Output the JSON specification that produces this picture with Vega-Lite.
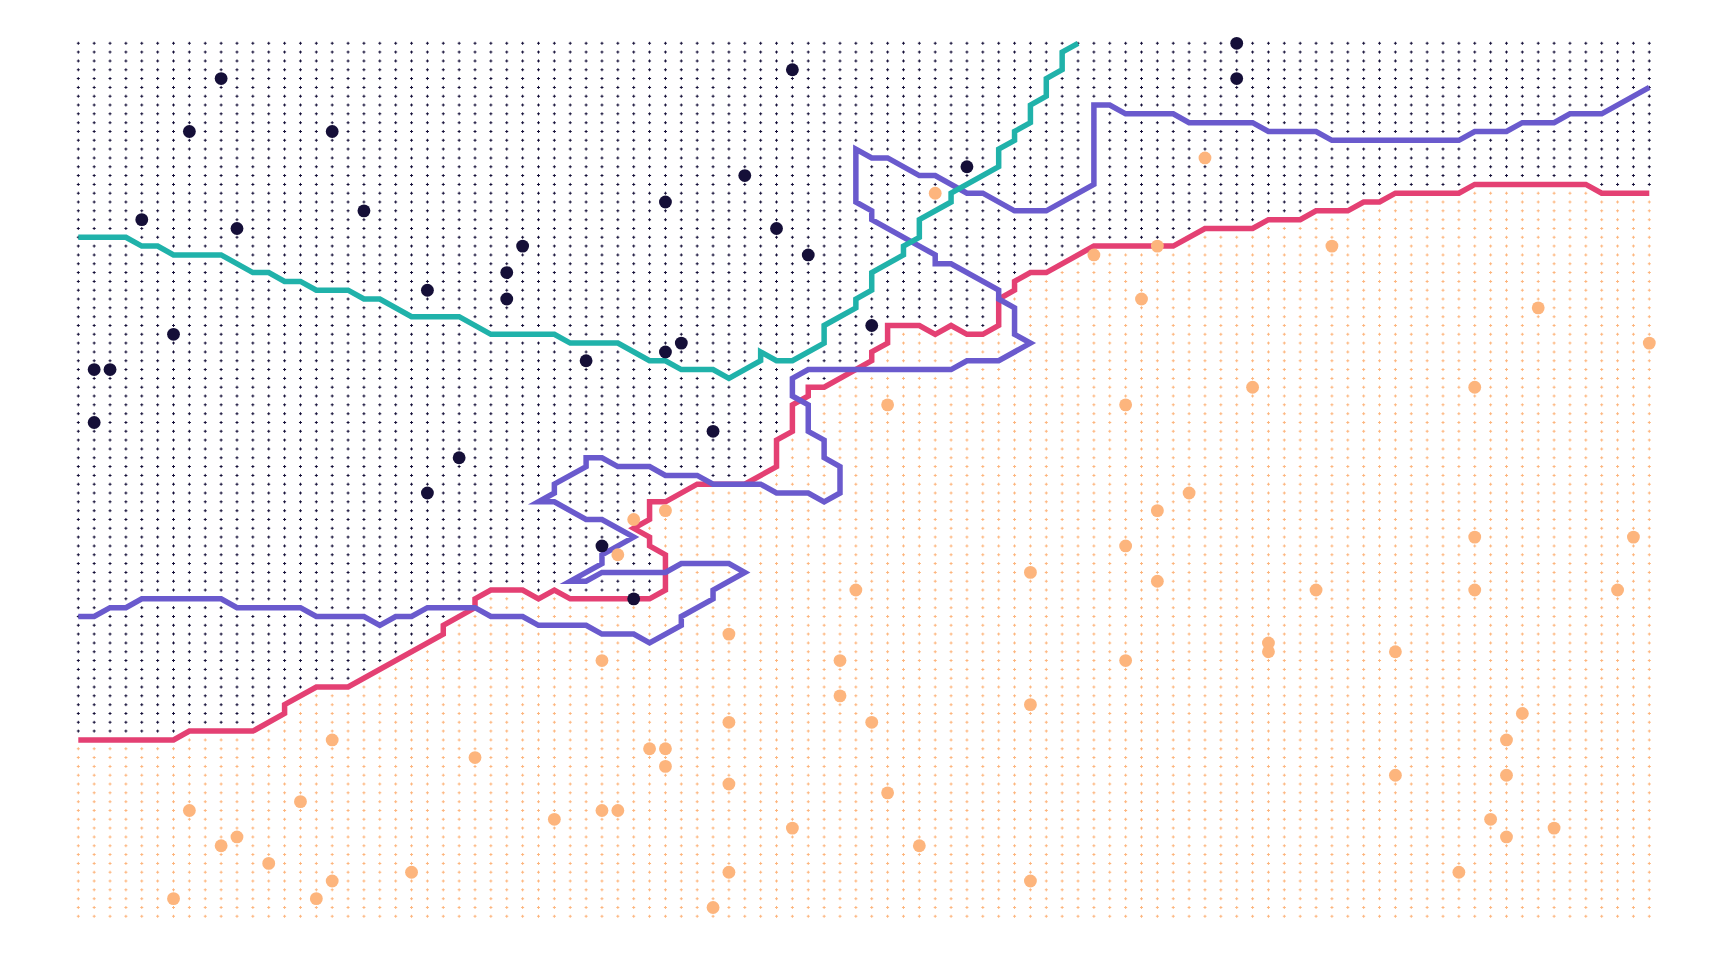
{
"$schema":"https://vega.github.io/schema/vega-lite/v6.json",
"width":1571,"height":873,
"autosize":{"type":"none"},
"padding":{"left":78.3,"top":43.3,"right":78.7,"bottom":43.7},
"background":"white",
"config":{"view":{"stroke":null}},
"datasets":{
"grid":[
{"i":0,"a":-0.5,"b":78.5,"c":"A"},{"i":1,"a":-0.5,"b":78.5,"c":"A"},{"i":2,"a":-0.5,"b":78.5,"c":"A"},{"i":3,"a":-0.5,"b":78.5,"c":"A"},{"i":4,"a":-0.5,"b":78.5,"c":"A"},{"i":5,"a":-0.5,"b":78.5,"c":"A"},{"i":6,"a":-0.5,"b":78.5,"c":"A"},
{"i":7,"a":-0.5,"b":77.5,"c":"A"},{"i":8,"a":-0.5,"b":77.5,"c":"A"},{"i":9,"a":-0.5,"b":77.5,"c":"A"},{"i":10,"a":-0.5,"b":77.5,"c":"A"},{"i":11,"a":-0.5,"b":77.5,"c":"A"},
{"i":12,"a":-0.5,"b":76.5,"c":"A"},{"i":13,"a":-0.5,"b":74.5,"c":"A"},{"i":14,"a":-0.5,"b":73.5,"c":"A"},
{"i":15,"a":-0.5,"b":72.5,"c":"A"},{"i":16,"a":-0.5,"b":72.5,"c":"A"},{"i":17,"a":-0.5,"b":72.5,"c":"A"},
{"i":18,"a":-0.5,"b":71.5,"c":"A"},{"i":19,"a":-0.5,"b":70.5,"c":"A"},{"i":20,"a":-0.5,"b":69.5,"c":"A"},{"i":21,"a":-0.5,"b":68.5,"c":"A"},{"i":22,"a":-0.5,"b":67.5,"c":"A"},
{"i":23,"a":-0.5,"b":65.5,"c":"A"},{"i":24,"a":-0.5,"b":64.5,"c":"A"},{"i":25,"a":-0.5,"b":62.5,"c":"A"},
{"i":26,"a":-0.5,"b":61.5,"c":"A"},{"i":27,"a":-0.5,"b":61.5,"c":"A"},{"i":28,"a":-0.5,"b":61.5,"c":"A"},{"i":29,"a":-0.5,"b":62.5,"c":"A"},{"i":30,"a":-0.5,"b":61.5,"c":"A"},
{"i":31,"a":-0.5,"b":62.5,"c":"A"},{"i":32,"a":-0.5,"b":62.5,"c":"A"},{"i":33,"a":-0.5,"b":62.5,"c":"A"},{"i":34,"a":-0.5,"b":62.5,"c":"A"},{"i":35,"a":-0.5,"b":62.5,"c":"A"},
{"i":36,"a":-0.5,"b":51.5,"c":"A"},{"i":36,"a":57.5,"b":62.5,"c":"A"},{"i":37,"a":-0.5,"b":51.5,"c":"A"},{"i":38,"a":-0.5,"b":50.5,"c":"A"},
{"i":39,"a":-0.5,"b":49.5,"c":"A"},{"i":40,"a":-0.5,"b":49.5,"c":"A"},{"i":41,"a":-0.5,"b":49.5,"c":"A"},{"i":42,"a":-0.5,"b":49.5,"c":"A"},
{"i":43,"a":-0.5,"b":48.5,"c":"A"},{"i":44,"a":-0.5,"b":44.5,"c":"A"},{"i":45,"a":-0.5,"b":40.5,"c":"A"},{"i":46,"a":-0.5,"b":38.5,"c":"A"},{"i":47,"a":-0.5,"b":38.5,"c":"A"},
{"i":48,"a":-0.5,"b":37.5,"c":"A"},{"i":49,"a":-0.5,"b":36.5,"c":"A"},{"i":50,"a":-0.5,"b":34.5,"c":"A"},{"i":51,"a":-0.5,"b":31.5,"c":"A"},
{"i":52,"a":-0.5,"b":31.5,"c":"A"},{"i":53,"a":-0.5,"b":31.5,"c":"A"},{"i":54,"a":-0.5,"b":32.5,"c":"A"},{"i":55,"a":-0.5,"b":31.5,"c":"A"},{"i":56,"a":-0.5,"b":32.5,"c":"A"},{"i":57,"a":-0.5,"b":32.5,"c":"A"},
{"i":58,"a":-0.5,"b":28.5,"c":"A"},{"i":59,"a":-0.5,"b":26.5,"c":"A"},{"i":60,"a":-0.5,"b":25.5,"c":"A"},{"i":61,"a":-0.5,"b":25.5,"c":"A"},{"i":62,"a":-0.5,"b":24.5,"c":"A"},{"i":63,"a":-0.5,"b":23.5,"c":"A"},
{"i":64,"a":-0.5,"b":22.5,"c":"A"},{"i":65,"a":-0.5,"b":22.5,"c":"A"},{"i":66,"a":-0.5,"b":22.5,"c":"A"},{"i":67,"a":-0.5,"b":22.5,"c":"A"},{"i":68,"a":-0.5,"b":22.5,"c":"A"},{"i":69,"a":-0.5,"b":22.5,"c":"A"},
{"i":70,"a":-0.5,"b":21.5,"c":"A"},{"i":71,"a":-0.5,"b":20.5,"c":"A"},{"i":72,"a":-0.5,"b":20.5,"c":"A"},{"i":73,"a":-0.5,"b":20.5,"c":"A"},{"i":74,"a":-0.5,"b":20.5,"c":"A"},
{"i":75,"a":-0.5,"b":19.5,"c":"A"},{"i":76,"a":-0.5,"b":19.5,"c":"A"},{"i":77,"a":-0.5,"b":19.5,"c":"A"},{"i":78,"a":-0.5,"b":18.5,"c":"A"},{"i":79,"a":-0.5,"b":18.5,"c":"A"},{"i":80,"a":-0.5,"b":18.5,"c":"A"},
{"i":81,"a":-0.5,"b":17.5,"c":"A"},{"i":82,"a":-0.5,"b":17.5,"c":"A"},{"i":83,"a":-0.5,"b":16.5,"c":"A"},{"i":84,"a":-0.5,"b":16.5,"c":"A"},{"i":85,"a":-0.5,"b":16.5,"c":"A"},{"i":86,"a":-0.5,"b":16.5,"c":"A"},{"i":87,"a":-0.5,"b":16.5,"c":"A"},
{"i":88,"a":-0.5,"b":15.5,"c":"A"},{"i":89,"a":-0.5,"b":15.5,"c":"A"},{"i":90,"a":-0.5,"b":15.5,"c":"A"},{"i":91,"a":-0.5,"b":15.5,"c":"A"},{"i":92,"a":-0.5,"b":15.5,"c":"A"},{"i":93,"a":-0.5,"b":15.5,"c":"A"},{"i":94,"a":-0.5,"b":15.5,"c":"A"},{"i":95,"a":-0.5,"b":15.5,"c":"A"},
{"i":96,"a":-0.5,"b":16.5,"c":"A"},{"i":97,"a":-0.5,"b":16.5,"c":"A"},{"i":98,"a":-0.5,"b":16.5,"c":"A"},{"i":99,"a":-0.5,"b":16.5,"c":"A"},
{"i":0,"a":99.5,"b":79.5,"c":"B"},{"i":1,"a":99.5,"b":79.5,"c":"B"},{"i":2,"a":99.5,"b":79.5,"c":"B"},{"i":3,"a":99.5,"b":79.5,"c":"B"},{"i":4,"a":99.5,"b":79.5,"c":"B"},{"i":5,"a":99.5,"b":79.5,"c":"B"},{"i":6,"a":99.5,"b":79.5,"c":"B"},
{"i":7,"a":99.5,"b":78.5,"c":"B"},{"i":8,"a":99.5,"b":78.5,"c":"B"},{"i":9,"a":99.5,"b":78.5,"c":"B"},{"i":10,"a":99.5,"b":78.5,"c":"B"},{"i":11,"a":99.5,"b":78.5,"c":"B"},
{"i":12,"a":99.5,"b":77.5,"c":"B"},{"i":13,"a":99.5,"b":76.5,"c":"B"},{"i":14,"a":99.5,"b":74.5,"c":"B"},
{"i":15,"a":99.5,"b":73.5,"c":"B"},{"i":16,"a":99.5,"b":73.5,"c":"B"},{"i":17,"a":99.5,"b":73.5,"c":"B"},
{"i":18,"a":99.5,"b":72.5,"c":"B"},{"i":19,"a":99.5,"b":71.5,"c":"B"},{"i":20,"a":99.5,"b":70.5,"c":"B"},{"i":21,"a":99.5,"b":69.5,"c":"B"},{"i":22,"a":99.5,"b":68.5,"c":"B"},
{"i":23,"a":99.5,"b":67.5,"c":"B"},{"i":24,"a":99.5,"b":65.5,"c":"B"},{"i":25,"a":99.5,"b":64.5,"c":"B"},
{"i":26,"a":99.5,"b":62.5,"c":"B"},{"i":27,"a":99.5,"b":62.5,"c":"B"},{"i":28,"a":99.5,"b":62.5,"c":"B"},{"i":29,"a":99.5,"b":63.5,"c":"B"},{"i":30,"a":99.5,"b":62.5,"c":"B"},
{"i":31,"a":99.5,"b":63.5,"c":"B"},{"i":32,"a":99.5,"b":63.5,"c":"B"},{"i":33,"a":99.5,"b":63.5,"c":"B"},{"i":34,"a":99.5,"b":63.5,"c":"B"},{"i":35,"a":99.5,"b":63.5,"c":"B"},
{"i":36,"a":99.5,"b":63.5,"c":"B"},{"i":36,"a":52.5,"b":57.5,"c":"B"},{"i":37,"a":99.5,"b":52.5,"c":"B"},{"i":38,"a":99.5,"b":51.5,"c":"B"},
{"i":39,"a":99.5,"b":50.5,"c":"B"},{"i":40,"a":99.5,"b":50.5,"c":"B"},{"i":41,"a":99.5,"b":50.5,"c":"B"},{"i":42,"a":99.5,"b":50.5,"c":"B"},
{"i":43,"a":99.5,"b":49.5,"c":"B"},{"i":44,"a":99.5,"b":48.5,"c":"B"},{"i":45,"a":99.5,"b":44.5,"c":"B"},{"i":46,"a":99.5,"b":40.5,"c":"B"},{"i":47,"a":99.5,"b":39.5,"c":"B"},
{"i":48,"a":99.5,"b":38.5,"c":"B"},{"i":49,"a":99.5,"b":37.5,"c":"B"},{"i":50,"a":99.5,"b":36.5,"c":"B"},{"i":51,"a":99.5,"b":34.5,"c":"B"},
{"i":52,"a":99.5,"b":32.5,"c":"B"},{"i":53,"a":99.5,"b":32.5,"c":"B"},{"i":54,"a":99.5,"b":33.5,"c":"B"},{"i":55,"a":99.5,"b":32.5,"c":"B"},{"i":56,"a":99.5,"b":33.5,"c":"B"},{"i":57,"a":99.5,"b":33.5,"c":"B"},
{"i":58,"a":99.5,"b":32.5,"c":"B"},{"i":59,"a":99.5,"b":28.5,"c":"B"},{"i":60,"a":99.5,"b":26.5,"c":"B"},{"i":61,"a":99.5,"b":26.5,"c":"B"},{"i":62,"a":99.5,"b":25.5,"c":"B"},{"i":63,"a":99.5,"b":24.5,"c":"B"},
{"i":64,"a":99.5,"b":23.5,"c":"B"},{"i":65,"a":99.5,"b":23.5,"c":"B"},{"i":66,"a":99.5,"b":23.5,"c":"B"},{"i":67,"a":99.5,"b":23.5,"c":"B"},{"i":68,"a":99.5,"b":23.5,"c":"B"},{"i":69,"a":99.5,"b":23.5,"c":"B"},
{"i":70,"a":99.5,"b":22.5,"c":"B"},{"i":71,"a":99.5,"b":21.5,"c":"B"},{"i":72,"a":99.5,"b":21.5,"c":"B"},{"i":73,"a":99.5,"b":21.5,"c":"B"},{"i":74,"a":99.5,"b":21.5,"c":"B"},
{"i":75,"a":99.5,"b":20.5,"c":"B"},{"i":76,"a":99.5,"b":20.5,"c":"B"},{"i":77,"a":99.5,"b":20.5,"c":"B"},{"i":78,"a":99.5,"b":19.5,"c":"B"},{"i":79,"a":99.5,"b":19.5,"c":"B"},{"i":80,"a":99.5,"b":19.5,"c":"B"},
{"i":81,"a":99.5,"b":18.5,"c":"B"},{"i":82,"a":99.5,"b":18.5,"c":"B"},{"i":83,"a":99.5,"b":17.5,"c":"B"},{"i":84,"a":99.5,"b":17.5,"c":"B"},{"i":85,"a":99.5,"b":17.5,"c":"B"},{"i":86,"a":99.5,"b":17.5,"c":"B"},{"i":87,"a":99.5,"b":17.5,"c":"B"},
{"i":88,"a":99.5,"b":16.5,"c":"B"},{"i":89,"a":99.5,"b":16.5,"c":"B"},{"i":90,"a":99.5,"b":16.5,"c":"B"},{"i":91,"a":99.5,"b":16.5,"c":"B"},{"i":92,"a":99.5,"b":16.5,"c":"B"},{"i":93,"a":99.5,"b":16.5,"c":"B"},{"i":94,"a":99.5,"b":16.5,"c":"B"},{"i":95,"a":99.5,"b":16.5,"c":"B"},
{"i":96,"a":99.5,"b":17.5,"c":"B"},{"i":97,"a":99.5,"b":17.5,"c":"B"},{"i":98,"a":99.5,"b":17.5,"c":"B"},{"i":99,"a":99.5,"b":17.5,"c":"B"}
],
"teal":[
{"n":0,"i":0,"r":22},{"n":1,"i":3,"r":22},{"n":2,"i":4,"r":23},{"n":3,"i":5,"r":23},{"n":4,"i":6,"r":24},{"n":5,"i":9,"r":24},{"n":6,"i":11,"r":26},{"n":7,"i":12,"r":26},{"n":8,"i":13,"r":27},{"n":9,"i":14,"r":27},
{"n":10,"i":15,"r":28},{"n":11,"i":17,"r":28},{"n":12,"i":18,"r":29},{"n":13,"i":19,"r":29},{"n":14,"i":21,"r":31},{"n":15,"i":24,"r":31},{"n":16,"i":26,"r":33},{"n":17,"i":30,"r":33},{"n":18,"i":31,"r":34},{"n":19,"i":34,"r":34},
{"n":20,"i":36,"r":36},{"n":21,"i":37,"r":36},{"n":22,"i":38,"r":37},{"n":23,"i":40,"r":37},{"n":24,"i":41,"r":38},{"n":25,"i":43,"r":36},{"n":26,"i":43,"r":35},{"n":27,"i":44,"r":36},{"n":28,"i":45,"r":36},{"n":29,"i":47,"r":34},
{"n":30,"i":47,"r":32},{"n":31,"i":49,"r":30},{"n":32,"i":49,"r":29},{"n":33,"i":50,"r":28},{"n":34,"i":50,"r":26},{"n":35,"i":52,"r":24},{"n":36,"i":52,"r":23},{"n":37,"i":53,"r":22},{"n":38,"i":53,"r":20},{"n":39,"i":55,"r":18},
{"n":40,"i":55,"r":17},{"n":41,"i":58,"r":14},{"n":42,"i":58,"r":12},{"n":43,"i":59,"r":11},{"n":44,"i":59,"r":10},{"n":45,"i":60,"r":9},{"n":46,"i":60,"r":7},{"n":47,"i":61,"r":6},{"n":48,"i":61,"r":4},{"n":49,"i":62,"r":3},
{"n":50,"i":62,"r":1},{"n":51,"i":63,"r":0}
],
"red":[
{"n":0,"i":0,"r":79},{"n":1,"i":6,"r":79},{"n":2,"i":7,"r":78},{"n":3,"i":11,"r":78},{"n":4,"i":13,"r":76},{"n":5,"i":13,"r":75},{"n":6,"i":15,"r":73},{"n":7,"i":17,"r":73},{"n":8,"i":23,"r":67},{"n":9,"i":23,"r":66},
{"n":10,"i":25,"r":64},{"n":11,"i":25,"r":63},{"n":12,"i":26,"r":62},{"n":13,"i":28,"r":62},{"n":14,"i":29,"r":63},{"n":15,"i":30,"r":62},{"n":16,"i":31,"r":63},{"n":17,"i":36,"r":63},{"n":18,"i":37,"r":62},{"n":19,"i":37,"r":58},
{"n":20,"i":36,"r":57},{"n":21,"i":36,"r":56},{"n":22,"i":35,"r":55},{"n":23,"i":36,"r":54},{"n":24,"i":36,"r":52},{"n":25,"i":37,"r":52},{"n":26,"i":39,"r":50},{"n":27,"i":42,"r":50},{"n":28,"i":44,"r":48},{"n":29,"i":44,"r":45},
{"n":30,"i":45,"r":44},{"n":31,"i":45,"r":41},{"n":32,"i":46,"r":40},{"n":33,"i":46,"r":39},{"n":34,"i":47,"r":39},{"n":35,"i":50,"r":36},{"n":36,"i":50,"r":35},{"n":37,"i":51,"r":34},{"n":38,"i":51,"r":32},{"n":39,"i":53,"r":32},
{"n":40,"i":54,"r":33},{"n":41,"i":55,"r":32},{"n":42,"i":56,"r":33},{"n":43,"i":57,"r":33},{"n":44,"i":58,"r":32},{"n":45,"i":58,"r":29},{"n":46,"i":59,"r":28},{"n":47,"i":59,"r":27},{"n":48,"i":60,"r":26},{"n":49,"i":61,"r":26},
{"n":50,"i":64,"r":23},{"n":51,"i":69,"r":23},{"n":52,"i":71,"r":21},{"n":53,"i":74,"r":21},{"n":54,"i":75,"r":20},{"n":55,"i":77,"r":20},{"n":56,"i":78,"r":19},{"n":57,"i":80,"r":19},{"n":58,"i":81,"r":18},{"n":59,"i":82,"r":18},
{"n":60,"i":83,"r":17},{"n":61,"i":87,"r":17},{"n":62,"i":88,"r":16},{"n":63,"i":95,"r":16},{"n":64,"i":96,"r":17},{"n":65,"i":99,"r":17}
],
"purple":[
{"n":0,"i":0,"r":65},{"n":1,"i":1,"r":65},{"n":2,"i":2,"r":64},{"n":3,"i":3,"r":64},{"n":4,"i":4,"r":63},{"n":5,"i":9,"r":63},{"n":6,"i":10,"r":64},{"n":7,"i":14,"r":64},{"n":8,"i":15,"r":65},{"n":9,"i":18,"r":65},
{"n":10,"i":19,"r":66},{"n":11,"i":20,"r":65},{"n":12,"i":21,"r":65},{"n":13,"i":22,"r":64},{"n":14,"i":25,"r":64},{"n":15,"i":26,"r":65},{"n":16,"i":28,"r":65},{"n":17,"i":29,"r":66},{"n":18,"i":32,"r":66},{"n":19,"i":33,"r":67},
{"n":20,"i":35,"r":67},{"n":21,"i":36,"r":68},{"n":22,"i":38,"r":66},{"n":23,"i":38,"r":65},{"n":24,"i":40,"r":63},{"n":25,"i":40,"r":62},{"n":26,"i":42,"r":60},{"n":27,"i":41,"r":59},{"n":28,"i":38,"r":59},{"n":29,"i":37,"r":60},
{"n":30,"i":33,"r":60},{"n":31,"i":32,"r":61},{"n":32,"i":31,"r":61},{"n":33,"i":33,"r":59},{"n":34,"i":33,"r":58},{"n":35,"i":35,"r":56},{"n":36,"i":33,"r":54},{"n":37,"i":32,"r":54},{"n":38,"i":30,"r":52},{"n":39,"i":29,"r":52},
{"n":40,"i":30,"r":51},{"n":41,"i":30,"r":50},{"n":42,"i":32,"r":48},{"n":43,"i":32,"r":47},{"n":44,"i":33,"r":47},{"n":45,"i":34,"r":48},{"n":46,"i":36,"r":48},{"n":47,"i":37,"r":49},{"n":48,"i":39,"r":49},{"n":49,"i":40,"r":50},
{"n":50,"i":43,"r":50},{"n":51,"i":44,"r":51},{"n":52,"i":46,"r":51},{"n":53,"i":47,"r":52},{"n":54,"i":48,"r":51},{"n":55,"i":48,"r":48},{"n":56,"i":47,"r":47},{"n":57,"i":47,"r":45},{"n":58,"i":46,"r":44},{"n":59,"i":46,"r":41},
{"n":60,"i":45,"r":40},{"n":61,"i":45,"r":38},{"n":62,"i":46,"r":37},{"n":63,"i":55,"r":37},{"n":64,"i":56,"r":36},{"n":65,"i":58,"r":36},{"n":66,"i":60,"r":34},{"n":67,"i":59,"r":33},{"n":68,"i":59,"r":30},{"n":69,"i":58,"r":29},
{"n":70,"i":58,"r":28},{"n":71,"i":55,"r":25},{"n":72,"i":54,"r":25},{"n":73,"i":54,"r":24},{"n":74,"i":53,"r":23},{"n":75,"i":50,"r":20},{"n":76,"i":50,"r":19},{"n":77,"i":49,"r":18},{"n":78,"i":49,"r":12},{"n":79,"i":50,"r":13},
{"n":80,"i":51,"r":13},{"n":81,"i":53,"r":15},{"n":82,"i":54,"r":15},{"n":83,"i":56,"r":17},{"n":84,"i":57,"r":17},{"n":85,"i":59,"r":19},{"n":86,"i":61,"r":19},{"n":87,"i":64,"r":16},{"n":88,"i":64,"r":7},{"n":89,"i":65,"r":7},
{"n":90,"i":66,"r":8},{"n":91,"i":69,"r":8},{"n":92,"i":70,"r":9},{"n":93,"i":74,"r":9},{"n":94,"i":75,"r":10},{"n":95,"i":78,"r":10},{"n":96,"i":79,"r":11},{"n":97,"i":87,"r":11},{"n":98,"i":88,"r":10},{"n":99,"i":90,"r":10},
{"n":100,"i":91,"r":9},{"n":101,"i":93,"r":9},{"n":102,"i":94,"r":8},{"n":103,"i":96,"r":8},{"n":104,"i":99,"r":5}
],
"pts":[
{"i":73,"r":0,"c":"A"},{"i":73,"r":4,"c":"A"},{"i":9,"r":4,"c":"A"},{"i":45,"r":3,"c":"A"},{"i":7,"r":10,"c":"A"},{"i":16,"r":10,"c":"A"},{"i":56,"r":14,"c":"A"},{"i":42,"r":15,"c":"A"},{"i":37,"r":18,"c":"A"},{"i":18,"r":19,"c":"A"},
{"i":4,"r":20,"c":"A"},{"i":10,"r":21,"c":"A"},{"i":44,"r":21,"c":"A"},{"i":28,"r":23,"c":"A"},{"i":46,"r":24,"c":"A"},{"i":27,"r":26,"c":"A"},{"i":22,"r":28,"c":"A"},{"i":27,"r":29,"c":"A"},{"i":50,"r":32,"c":"A"},{"i":6,"r":33,"c":"A"},
{"i":38,"r":34,"c":"A"},{"i":37,"r":35,"c":"A"},{"i":32,"r":36,"c":"A"},{"i":1,"r":37,"c":"A"},{"i":2,"r":37,"c":"A"},{"i":1,"r":43,"c":"A"},{"i":40,"r":44,"c":"A"},{"i":24,"r":47,"c":"A"},{"i":22,"r":51,"c":"A"},{"i":33,"r":57,"c":"A"},{"i":35,"r":63,"c":"A"},
{"i":71,"r":13,"c":"B"},{"i":54,"r":17,"c":"B"},{"i":64,"r":24,"c":"B"},{"i":68,"r":23,"c":"B"},{"i":79,"r":23,"c":"B"},{"i":67,"r":29,"c":"B"},{"i":92,"r":30,"c":"B"},{"i":99,"r":34,"c":"B"},{"i":74,"r":39,"c":"B"},{"i":88,"r":39,"c":"B"},
{"i":51,"r":41,"c":"B"},{"i":66,"r":41,"c":"B"},{"i":70,"r":51,"c":"B"},{"i":68,"r":53,"c":"B"},{"i":35,"r":54,"c":"B"},{"i":37,"r":53,"c":"B"},{"i":66,"r":57,"c":"B"},{"i":88,"r":56,"c":"B"},{"i":98,"r":56,"c":"B"},{"i":34,"r":58,"c":"B"},
{"i":60,"r":60,"c":"B"},{"i":68,"r":61,"c":"B"},{"i":49,"r":62,"c":"B"},{"i":78,"r":62,"c":"B"},{"i":88,"r":62,"c":"B"},{"i":97,"r":62,"c":"B"},{"i":41,"r":67,"c":"B"},{"i":75,"r":68,"c":"B"},{"i":75,"r":69,"c":"B"},{"i":33,"r":70,"c":"B"},
{"i":48,"r":70,"c":"B"},{"i":66,"r":70,"c":"B"},{"i":83,"r":69,"c":"B"},{"i":48,"r":74,"c":"B"},{"i":60,"r":75,"c":"B"},{"i":91,"r":76,"c":"B"},{"i":41,"r":77,"c":"B"},{"i":50,"r":77,"c":"B"},{"i":16,"r":79,"c":"B"},{"i":90,"r":79,"c":"B"},
{"i":36,"r":80,"c":"B"},{"i":37,"r":80,"c":"B"},{"i":25,"r":81,"c":"B"},{"i":37,"r":82,"c":"B"},{"i":83,"r":83,"c":"B"},{"i":90,"r":83,"c":"B"},{"i":41,"r":84,"c":"B"},{"i":51,"r":85,"c":"B"},{"i":14,"r":86,"c":"B"},{"i":7,"r":87,"c":"B"},
{"i":33,"r":87,"c":"B"},{"i":34,"r":87,"c":"B"},{"i":30,"r":88,"c":"B"},{"i":89,"r":88,"c":"B"},{"i":45,"r":89,"c":"B"},{"i":93,"r":89,"c":"B"},{"i":10,"r":90,"c":"B"},{"i":90,"r":90,"c":"B"},{"i":9,"r":91,"c":"B"},{"i":53,"r":91,"c":"B"},
{"i":12,"r":93,"c":"B"},{"i":21,"r":94,"c":"B"},{"i":41,"r":94,"c":"B"},{"i":87,"r":94,"c":"B"},{"i":16,"r":95,"c":"B"},{"i":60,"r":95,"c":"B"},{"i":6,"r":97,"c":"B"},{"i":15,"r":97,"c":"B"},{"i":40,"r":98,"c":"B"}
]
},
"encoding":{"x":{"field":"i","type":"quantitative","scale":{"domain":[0,99],"nice":false,"zero":false},"axis":null}},
"layer":[
{"data":{"name":"grid"},
 "mark":{"type":"rule","strokeWidth":1,"strokeDash":[3,5.818182],"strokeDashOffset":5.909091},
 "encoding":{"y":{"field":"a","type":"quantitative","scale":{"domain":[0,99],"reverse":true,"nice":false,"zero":false},"axis":null},"y2":{"field":"b"},
  "color":{"field":"c","type":"nominal","scale":{"domain":["A","B"],"range":["#150f38","#fdb57d"]},"legend":null}}},
{"data":{"name":"grid"},
 "mark":{"type":"rule","strokeWidth":3,"strokeDash":[1,7.818182],"strokeDashOffset":4.909091},
 "encoding":{"y":{"field":"a","type":"quantitative","scale":{"domain":[0,99],"reverse":true,"nice":false,"zero":false},"axis":null},"y2":{"field":"b"},
  "color":{"field":"c","type":"nominal","scale":{"domain":["A","B"],"range":["#150f38","#fdb57d"]},"legend":null}}},
{"data":{"name":"red"},"mark":{"type":"line","strokeWidth":5.5,"color":"#e44073"},
 "encoding":{"y":{"field":"r","type":"quantitative","scale":{"domain":[0,99],"reverse":true,"nice":false,"zero":false},"axis":null},"order":{"field":"n","type":"quantitative"}}},
{"data":{"name":"purple"},"mark":{"type":"line","strokeWidth":5.5,"color":"#6a5acd"},
 "encoding":{"y":{"field":"r","type":"quantitative","scale":{"domain":[0,99],"reverse":true,"nice":false,"zero":false},"axis":null},"order":{"field":"n","type":"quantitative"}}},
{"data":{"name":"teal"},"mark":{"type":"line","strokeWidth":5.5,"color":"#20b2aa"},
 "encoding":{"y":{"field":"r","type":"quantitative","scale":{"domain":[0,99],"reverse":true,"nice":false,"zero":false},"axis":null},"order":{"field":"n","type":"quantitative"}}},
{"data":{"name":"pts"},"mark":{"type":"circle","size":165,"opacity":1},
 "encoding":{"y":{"field":"r","type":"quantitative","scale":{"domain":[0,99],"reverse":true,"nice":false,"zero":false},"axis":null},
  "color":{"field":"c","type":"nominal","scale":{"domain":["A","B"],"range":["#150f38","#fdb57d"]},"legend":null}}}
]
}
